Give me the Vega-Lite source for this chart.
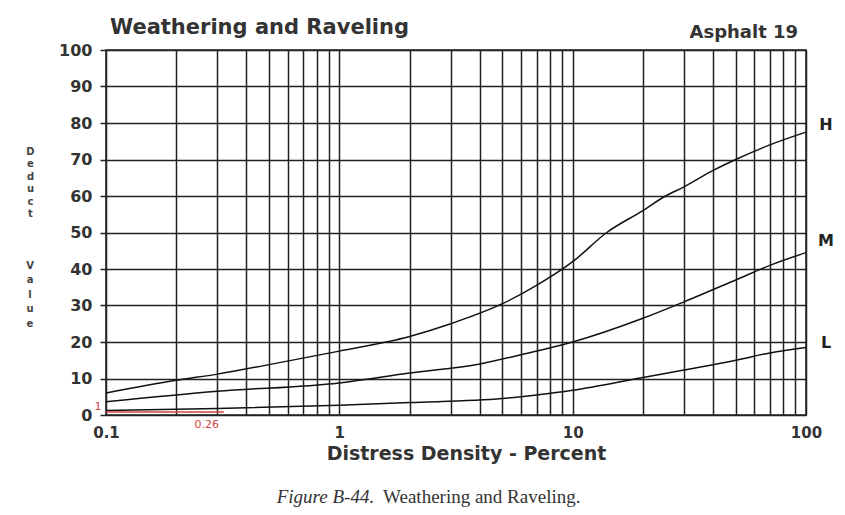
{
  "$schema": "https://vega.github.io/schema/vega-lite/v6.json",
  "width": 700,
  "height": 365,
  "autosize": {"type": "none"},
  "padding": {"left": 106, "top": 50, "right": 39, "bottom": 100},
  "background": "white",
  "config": {"view": {"stroke": "#222", "strokeWidth": 1.5}, "font": "DejaVu Sans"},
  "encoding": {
    "x": {
      "field": "x", "type": "quantitative",
      "scale": {"type": "log", "domain": [0.1, 100], "nice": false},
      "axis": {
        "values": [0.1, 0.2, 0.3, 0.4, 0.5, 0.6, 0.7, 0.8, 0.9, 1, 2, 3, 4, 5, 6, 7, 8, 9, 10, 20, 30, 40, 50, 60, 70, 80, 90, 100],
        "grid": true, "gridColor": "#222", "gridWidth": 1.5, "gridOpacity": 1,
        "domain": false, "ticks": false, "labelOverlap": false, "labelFlush": false,
        "labelExpr": "datum.value == 0.1 ? '0.1' : datum.value == 1 ? '1' : datum.value == 10 ? '10' : datum.value == 100 ? '100' : ''",
        "labelFont": "DejaVu Sans", "labelFontWeight": "bold", "labelFontSize": 15, "labelColor": "#333", "labelPadding": 10,
        "title": "Distress Density - Percent", "titleFont": "DejaVu Sans", "titleFontSize": 19, "titleFontWeight": "bold",
        "titleColor": "#333", "titlePadding": 4, "titleX": 360
      }
    },
    "y": {
      "field": "y", "type": "quantitative",
      "scale": {"domain": [0, 100], "nice": false, "zero": false},
      "axis": {
        "values": [0, 10, 20, 30, 40, 50, 60, 70, 80, 90, 100],
        "tickCount": 11, "labelOverlap": false,
        "grid": true, "gridColor": "#222", "gridWidth": 1.5, "gridOpacity": 1,
        "domain": false, "ticks": true, "tickSize": 6, "tickColor": "#222", "tickWidth": 1.5,
        "labelFont": "DejaVu Sans", "labelFontWeight": "bold", "labelFontSize": 16, "labelColor": "#333", "labelPadding": 8,
        "title": ["D", "e", "d", "u", "c", "t"],
        "titleAngle": 0, "titleX": -76, "titleY": 96, "titleAlign": "center", "titleBaseline": "top",
        "titleFont": "DejaVu Sans", "titleFontSize": 10, "titleFontWeight": "bold", "titleLineHeight": 12.5, "titleColor": "#444"
      }
    }
  },
  "layer": [
    {
      "data": {"values": [
        {"c": "H", "x": 0.1, "y": 6}, {"c": "H", "x": 0.2, "y": 9.5}, {"c": "H", "x": 0.3, "y": 11.2}, {"c": "H", "x": 0.5, "y": 13.8},
        {"c": "H", "x": 1, "y": 17.5}, {"c": "H", "x": 2, "y": 21.5}, {"c": "H", "x": 3, "y": 25}, {"c": "H", "x": 5, "y": 30.5},
        {"c": "H", "x": 7, "y": 35.5}, {"c": "H", "x": 10, "y": 42}, {"c": "H", "x": 14, "y": 50}, {"c": "H", "x": 20, "y": 56},
        {"c": "H", "x": 25, "y": 60}, {"c": "H", "x": 30, "y": 62.5}, {"c": "H", "x": 40, "y": 67}, {"c": "H", "x": 50, "y": 70},
        {"c": "H", "x": 70, "y": 74}, {"c": "H", "x": 100, "y": 77.5},
        {"c": "M", "x": 0.1, "y": 3.6}, {"c": "M", "x": 0.3, "y": 6.5}, {"c": "M", "x": 1, "y": 8.8}, {"c": "M", "x": 2, "y": 11.5},
        {"c": "M", "x": 4, "y": 14}, {"c": "M", "x": 6, "y": 16.5}, {"c": "M", "x": 10, "y": 20}, {"c": "M", "x": 20, "y": 26.5},
        {"c": "M", "x": 30, "y": 31}, {"c": "M", "x": 50, "y": 37}, {"c": "M", "x": 70, "y": 41}, {"c": "M", "x": 100, "y": 44.5},
        {"c": "L", "x": 0.1, "y": 1.2}, {"c": "L", "x": 0.3, "y": 1.8}, {"c": "L", "x": 1, "y": 2.7}, {"c": "L", "x": 2, "y": 3.4},
        {"c": "L", "x": 5, "y": 4.5}, {"c": "L", "x": 7, "y": 5.5}, {"c": "L", "x": 10, "y": 6.8}, {"c": "L", "x": 20, "y": 10.3},
        {"c": "L", "x": 30, "y": 12.3}, {"c": "L", "x": 50, "y": 15}, {"c": "L", "x": 70, "y": 17}, {"c": "L", "x": 100, "y": 18.5}
      ]},
      "mark": {"type": "line", "color": "#111", "strokeWidth": 1.5, "interpolate": "monotone"},
      "encoding": {"detail": {"field": "c"}}
    },
    {
      "data": {"values": [{"x": 0.1, "x2": 0.32, "y": 0.8}]},
      "mark": {"type": "rule", "color": "#d04545", "strokeWidth": 1.5},
      "encoding": {"x2": {"field": "x2"}}
    },
    {
      "data": {"values": [{"t": "1", "x": 0.1, "y": 0.8}]},
      "mark": {"type": "text", "color": "#d04545", "fontSize": 11, "dx": -8, "baseline": "bottom", "align": "center"},
      "encoding": {"text": {"field": "t"}}
    },
    {
      "data": {"values": [{"t": "0.26", "x": 0.27, "y": -2.8}]},
      "mark": {"type": "text", "color": "#d04545", "fontSize": 11, "baseline": "middle", "align": "center"},
      "encoding": {"text": {"field": "t"}}
    },
    {
      "data": {"values": [{"t": "V\na\nl\nu\ne", "x": 0.1, "y": 42.3}]},
      "mark": {"type": "text", "color": "#444", "fontSize": 10, "fontWeight": "bold", "dx": -76, "lineBreak": "\n", "lineHeight": 14.5, "baseline": "top", "align": "center"},
      "encoding": {"text": {"field": "t"}}
    },
    {
      "data": {"values": [{"t": "H", "x": 100, "y": 79.5}, {"t": "M", "x": 100, "y": 47.8}, {"t": "L", "x": 100, "y": 19.7}]},
      "mark": {"type": "text", "color": "#222", "fontSize": 16, "fontWeight": "bold", "dx": 20, "baseline": "middle", "align": "center"},
      "encoding": {"text": {"field": "t"}}
    },
    {
      "data": {"values": [{"t": "Weathering and Raveling", "x": 0.1, "y": 104.4}]},
      "mark": {"type": "text", "color": "#333", "fontSize": 21, "fontWeight": "bold", "dx": 4, "baseline": "alphabetic", "align": "left"},
      "encoding": {"text": {"field": "t"}}
    },
    {
      "data": {"values": [{"t": "Asphalt 19", "x": 92.5, "y": 103.3}]},
      "mark": {"type": "text", "color": "#333", "fontSize": 18, "fontWeight": "bold", "baseline": "alphabetic", "align": "right"},
      "encoding": {"text": {"field": "t"}}
    },
    {
      "data": {"values": [{"t": "Figure B-44.", "x": 1.41, "y": -24.1}]},
      "mark": {"type": "text", "color": "#333", "font": "Liberation Serif", "fontStyle": "italic", "fontSize": 19, "baseline": "alphabetic", "align": "right"},
      "encoding": {"text": {"field": "t"}}
    },
    {
      "data": {"values": [{"t": "Weathering and Raveling.", "x": 1.54, "y": -24.1}]},
      "mark": {"type": "text", "color": "#333", "font": "Liberation Serif", "fontSize": 19, "baseline": "alphabetic", "align": "left"},
      "encoding": {"text": {"field": "t"}}
    }
  ]
}
